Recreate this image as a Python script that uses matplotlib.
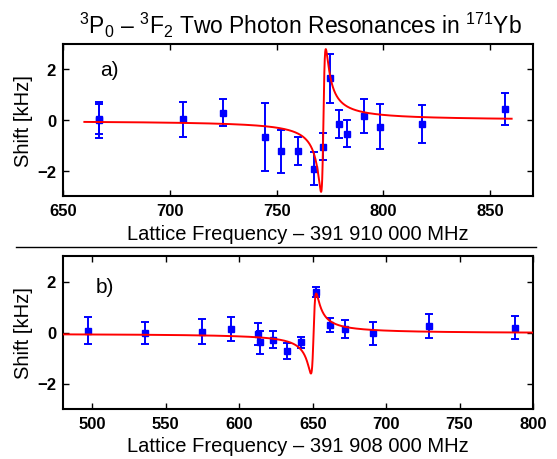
import numpy as np
import matplotlib
matplotlib.use("Agg")
import matplotlib.pyplot as plt
from matplotlib.lines import Line2D

plt.rcParams['font.family'] = ['Liberation Sans', 'DejaVu Sans']
plt.rcParams['mathtext.fontset'] = 'custom'
plt.rcParams['mathtext.rm'] = 'Liberation Sans'

# ---- Panel a) data (Lattice frequency - 391 910 000 MHz) ----
xa = [667, 667, 706, 725, 744.6, 752, 760, 767.7, 771.6, 775, 779, 783, 791, 798.5, 818, 857]
ya = [0.0, 0.03, 0.03, 0.29, -0.67, -1.24, -1.24, -1.92, -1.05, 1.65, -0.16, -0.54, 0.17, -0.26, -0.14, 0.43]
ea = [0.73, 0.60, 0.69, 0.54, 1.33, 0.85, 0.55, 0.65, 0.52, 0.97, 0.55, 0.54, 0.67, 0.88, 0.75, 0.64]
# fit parameters (dispersive Lorentzian) panel a
fit_a = dict(x0=771.9, g=1.1, A=6.2, y0=-0.02, xmin=660, xmax=860)

# ---- Panel b) data (Lattice frequency - 391 908 000 MHz) ----
xb = [497.3, 536, 574.5, 594.3, 613.1, 613.8, 623, 632.7, 642, 652.4, 662, 671.8, 691.2, 729.4, 787.6]
yb = [0.07, -0.03, 0.03, 0.14, -0.05, -0.39, -0.28, -0.73, -0.39, 1.58, 0.28, 0.13, -0.03, 0.25, 0.18]
eb = [0.52, 0.44, 0.49, 0.48, 0.43, 0.46, 0.34, 0.31, 0.23, 0.19, 0.27, 0.36, 0.46, 0.47, 0.45]
fit_b = dict(x0=650.6, g=1.8, A=5.65, y0=-0.04, xmin=480, xmax=800)

xticks_a = [650, 700, 750, 800, 850]
xticks_b = [500, 550, 600, 650, 700, 750, 800]
yticks = [-2, 0, 2]


def fit_curve(p):
    x = np.linspace(p['xmin'], p['xmax'], 4000)
    d = x - p['x0']
    return x, p['y0'] + p['A'] * d / (d ** 2 + p['g'] ** 2)


fig = plt.figure(figsize=(5.57, 4.60), dpi=100)
L, W = 63 / 557, 470 / 557
axa = fig.add_axes([L, 1 - 197 / 460, W, 152 / 460])
axb = fig.add_axes([L, 1 - 410 / 460, W, 153 / 460])

for ax, x, y, e, p, xt, xl, lab, lx, ly in [
    (axa, xa, ya, ea, fit_a, xticks_a, (650, 870), 'a)', 0.08, 0.83),
    (axb, xb, yb, eb, fit_b, xticks_b, (480, 800), 'b)', 0.07, 0.80),
]:
    cx, cy = fit_curve(p)
    ax.errorbar(x, y, yerr=e, fmt='s', color='#0000ff', ms=4.5, elinewidth=1.4,
                capsize=3, capthick=1.4, zorder=3)
    ax.plot(cx, cy, color='#ff0000', lw=1.4, zorder=4)
    ax.set_xlim(*xl)
    ax.set_ylim(-3, 3)
    ax.set_xticks(xt)
    ax.set_yticks(yticks)
    ax.tick_params(direction='in', top=True, right=True, length=4, width=1,
                   labelsize=12, pad=5)
    ax.set_yticklabels(['\u22122', '0', '2'])
    for t in ax.get_xticklabels() + ax.get_yticklabels():
        t.set_fontweight('bold')
    for s in ax.spines.values():
        s.set_linewidth(1.5)
    ax.set_ylabel('Shift [kHz]', fontsize=14.5, labelpad=3)
    ax.text(lx, ly, lab, transform=ax.transAxes, fontsize=15, va='center', ha='left')

axa.set_xlabel('Lattice Frequency \u2013 391 910 000 MHz', fontsize=14.5, labelpad=4)
axb.set_xlabel('Lattice Frequency \u2013 391 908 000 MHz', fontsize=14.5, labelpad=4)

fig.text(0.54, 1 - 25 / 460,
         '$^{3}$P$_{0}$ \u2013 $^{3}$F$_{2}$ Two Photon Resonances in $^{171}$Yb',
         ha='center', va='center', fontsize=16.5)

fig.add_artist(Line2D([16 / 557, 536 / 557], [1 - 248 / 460, 1 - 248 / 460],
                      color='black', lw=1.0, transform=fig.transFigure))

fig.savefig('out.png', dpi=100)
